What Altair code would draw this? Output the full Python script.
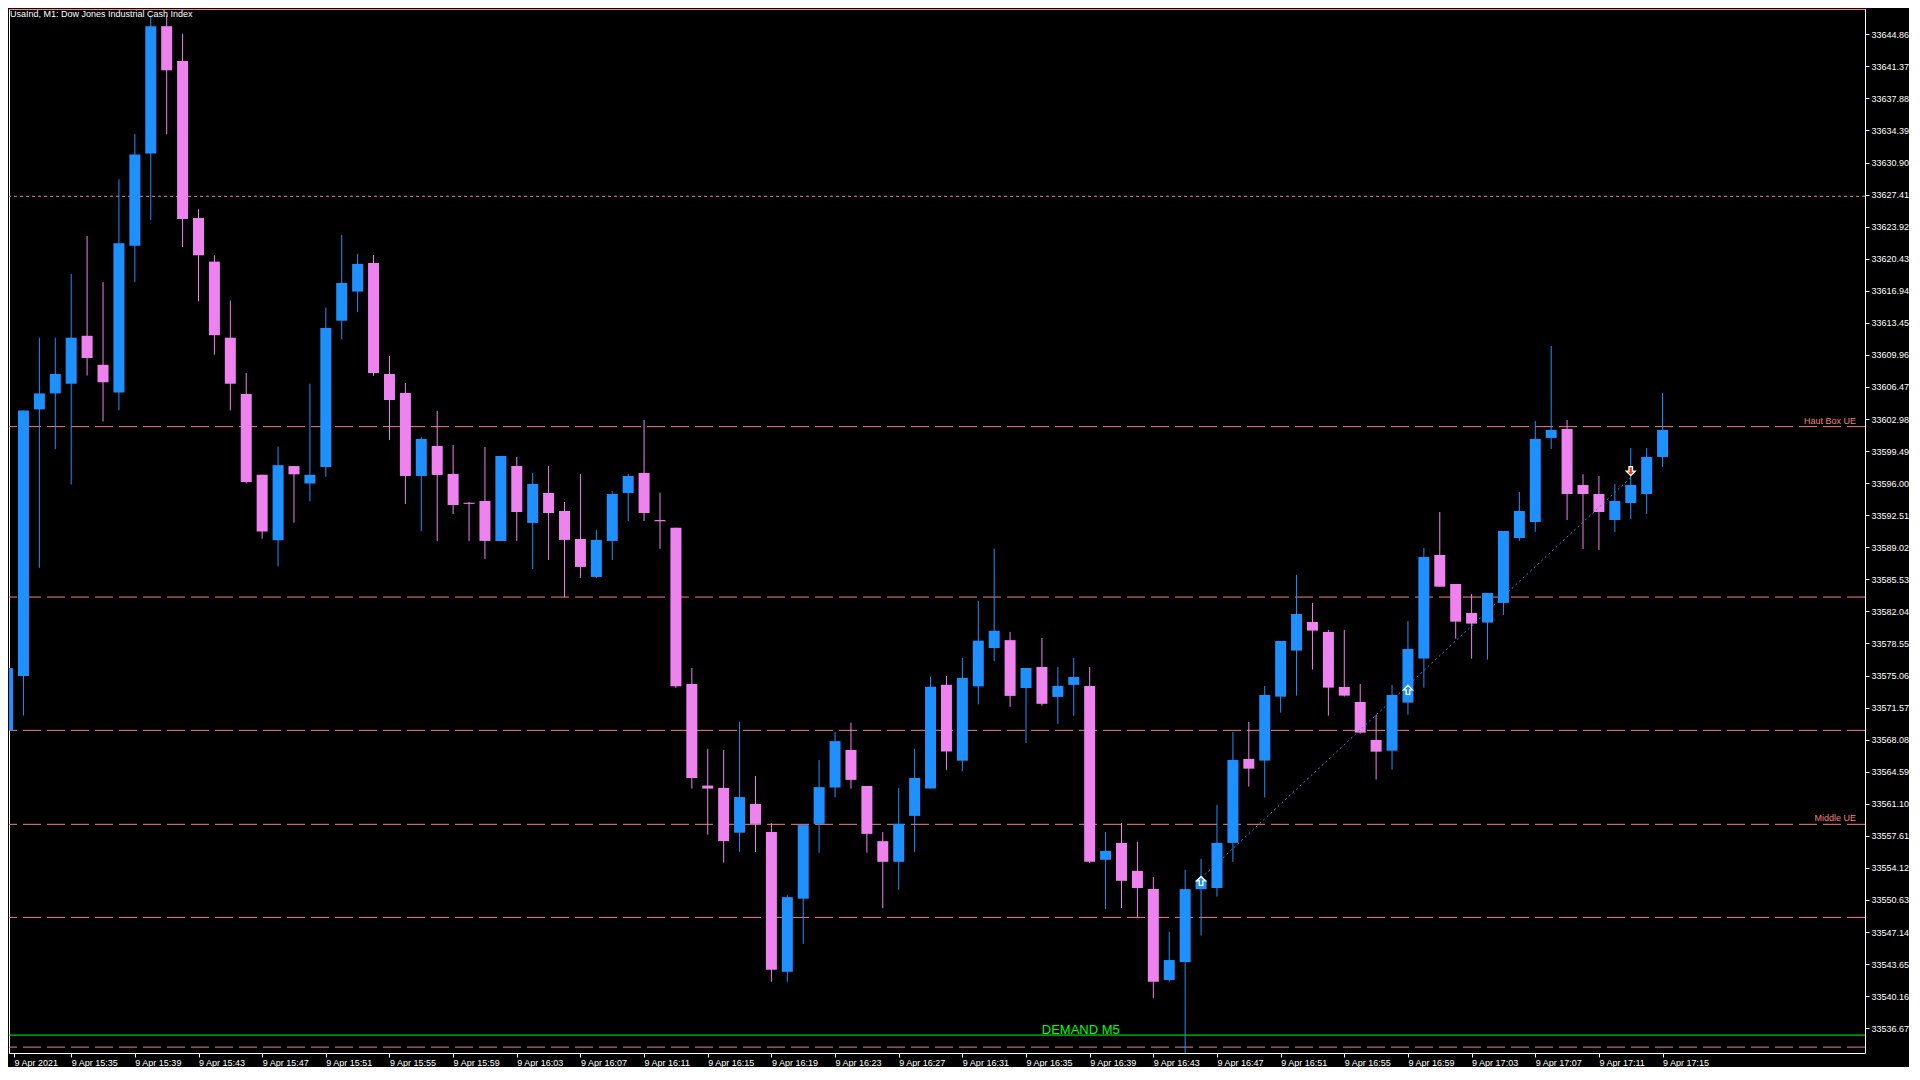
import json
import altair as alt
import pandas as pd

TITLE = "UsaInd, M1:  Dow Jones Industrial Cash Index"

# one candle per minute, index 0 = 9 Apr 2021 15:31
MINUTE = list(range(105))
OPEN = [33569.11, 33575.02, 33604.03, 33605.77, 33606.82, 33612.04, 33608.88, 33605.87, 33621.85, 33631.87,
        33645.74, 33641.95, 33624.86, 33620.11, 33611.83, 33605.71, 33596.91, 33589.79, 33597.86, 33595.96,
        33597.75, 33613.68, 33616.85, 33619.97, 33607.88, 33605.82, 33596.78, 33600.05, 33597.00, 33593.84,
        33594.06, 33589.71, 33597.87, 33591.67, 33594.93, 33592.97, 33589.92, 33585.79, 33589.71, 33594.93,
        33597.11, 33591.98, 33591.15, 33574.13, 33563.08, 33562.83, 33557.95, 33561.08, 33558.03, 33542.81,
        33550.77, 33558.91, 33562.87, 33566.96, 33563.04, 33557.03, 33554.78, 33559.78, 33562.75, 33574.05,
        33565.79, 33573.88, 33578.05, 33578.91, 33573.70, 33575.99, 33572.73, 33574.04, 33573.93, 33555.00,
        33556.84, 33553.80, 33551.81, 33541.92, 33543.87, 33551.81, 33551.93, 33556.84, 33565.98, 33565.80,
        33572.76, 33577.77, 33580.89, 33579.80, 33573.81, 33572.18, 33568.05, 33566.88, 33572.11, 33576.90,
        33588.18, 33585.02, 33581.87, 33580.82, 33582.96, 33590.03, 33591.77, 33600.92, 33601.90, 33595.80,
        33594.82, 33591.99, 33593.84, 33594.82, 33598.85]
HIGH = [33575.87, 33603.92, 33611.83, 33611.83, 33618.79, 33622.91, 33617.90, 33629.08, 33633.98, 33646.90,
        33646.90, 33644.90, 33625.81, 33620.80, 33615.89, 33607.98, 33596.91, 33599.97, 33597.86, 33606.82,
        33615.10, 33623.01, 33620.95, 33620.84, 33609.84, 33606.90, 33601.03, 33603.86, 33600.16, 33593.95,
        33599.94, 33598.96, 33598.85, 33597.11, 33597.87, 33593.95, 33597.00, 33590.90, 33595.15, 33597.00,
        33602.88, 33594.96, 33591.15, 33575.88, 33567.08, 33566.96, 33570.00, 33564.12, 33558.99, 33551.15,
        33558.78, 33565.87, 33568.92, 33569.92, 33563.04, 33558.03, 33562.83, 33567.08, 33574.92, 33575.01,
        33576.97, 33583.18, 33588.85, 33579.81, 33575.88, 33579.14, 33575.99, 33576.97, 33575.99, 33558.04,
        33559.01, 33556.95, 33553.12, 33547.17, 33553.91, 33555.11, 33560.96, 33568.91, 33570.00, 33573.92,
        33578.82, 33586.01, 33582.96, 33580.02, 33580.02, 33574.14, 33570.80, 33574.03, 33581.00, 33588.94,
        33592.86, 33585.02, 33583.94, 33584.05, 33590.79, 33595.04, 33602.77, 33610.93, 33602.88, 33596.96,
        33596.78, 33595.91, 33599.83, 33599.83, 33605.82]
LOW = [33569.11, 33570.70, 33586.78, 33599.70, 33595.85, 33607.72, 33602.71, 33603.92, 33617.90, 33624.65,
       33633.98, 33621.70, 33615.79, 33609.99, 33603.92, 33595.96, 33589.95, 33586.94, 33591.69, 33594.01,
       33596.70, 33611.67, 33614.63, 33607.67, 33600.70, 33593.73, 33590.79, 33589.71, 33592.64, 33589.71,
       33587.75, 33589.71, 33589.71, 33586.66, 33587.64, 33583.61, 33585.68, 33585.68, 33587.64, 33591.88,
       33591.88, 33588.85, 33573.71, 33562.75, 33557.74, 33554.70, 33555.86, 33555.86, 33541.72, 33541.72,
       33545.85, 33555.78, 33561.79, 33562.75, 33555.78, 33549.73, 33551.73, 33555.86, 33562.75, 33564.79,
       33564.66, 33571.92, 33576.63, 33571.64, 33567.71, 33571.76, 33569.80, 33570.67, 33554.66, 33549.64,
       33549.75, 33548.74, 33539.97, 33541.73, 33533.30, 33546.76, 33550.99, 33554.78, 33562.97, 33561.77,
       33571.02, 33572.87, 33575.70, 33570.69, 33572.76, 33568.73, 33563.73, 33564.82, 33570.80, 33573.74,
       33584.73, 33579.07, 33576.90, 33576.79, 33581.65, 33589.71, 33590.69, 33599.72, 33591.99, 33588.84,
       33588.73, 33590.69, 33592.10, 33592.64, 33597.76]
CLOSE = [33575.87, 33603.92, 33605.77, 33607.88, 33611.83, 33609.62, 33606.98, 33622.12, 33631.77, 33645.74,
         33640.94, 33624.75, 33620.80, 33612.10, 33606.82, 33596.12, 33590.74, 33597.96, 33596.96, 33596.91,
         33612.89, 33617.79, 33619.86, 33607.99, 33605.05, 33596.78, 33600.81, 33596.89, 33593.62, 33593.77,
         33589.71, 33598.96, 33592.86, 33595.91, 33592.75, 33589.82, 33586.88, 33589.82, 33594.82, 33596.78,
         33592.75, 33591.85, 33573.88, 33563.91, 33562.75, 33557.03, 33561.83, 33558.91, 33543.02, 33550.94,
         33558.78, 33562.91, 33567.92, 33563.70, 33557.82, 33554.78, 33558.91, 33563.91, 33573.84, 33566.79,
         33574.80, 33578.85, 33579.93, 33572.84, 33575.88, 33571.98, 33573.93, 33574.90, 33554.78, 33555.97,
         33552.71, 33551.93, 33541.73, 33544.09, 33551.81, 33552.83, 33556.84, 33565.87, 33564.92, 33572.94,
         33578.82, 33581.76, 33579.95, 33573.74, 33572.87, 33568.84, 33566.77, 33572.94, 33577.95, 33587.96,
         33584.73, 33580.92, 33580.71, 33584.05, 33590.79, 33592.97, 33600.81, 33601.79, 33594.82, 33594.82,
         33592.86, 33594.06, 33595.80, 33598.85, 33601.79]

X_TICK_LABELS = ["9 Apr 2021", "9 Apr 15:35", "9 Apr 15:39", "9 Apr 15:43", "9 Apr 15:47", "9 Apr 15:51",
                 "9 Apr 15:55", "9 Apr 15:59", "9 Apr 16:03", "9 Apr 16:07", "9 Apr 16:11", "9 Apr 16:15",
                 "9 Apr 16:19", "9 Apr 16:23", "9 Apr 16:27", "9 Apr 16:31", "9 Apr 16:35", "9 Apr 16:39",
                 "9 Apr 16:43", "9 Apr 16:47", "9 Apr 16:51", "9 Apr 16:55", "9 Apr 16:59", "9 Apr 17:03",
                 "9 Apr 17:07", "9 Apr 17:11", "9 Apr 17:15"]
Y_TICKS = [33536.67, 33540.16, 33543.65, 33547.14, 33550.63, 33554.12, 33557.61, 33561.10, 33564.59,
           33568.08, 33571.57, 33575.06, 33578.55, 33582.04, 33585.53, 33589.02, 33592.51, 33596.00,
           33599.49, 33602.98, 33606.47, 33609.96, 33613.45, 33616.94, 33620.43, 33623.92, 33627.41,
           33630.90, 33634.39, 33637.88, 33641.37, 33644.86]

DASHED_LEVELS = [33602.15, 33583.60, 33569.09, 33558.86, 33548.73, 33534.61]
DASHED_LABELS = ["Haut Box UE", "", "", "Middle UE", "", ""]
DOTTED_LEVEL = [33627.22]
TOP_LEVEL = [33647.56]
DEMAND_LEVEL = [33535.92]
DEMAND_LABEL = ["DEMAND M5"]
DEMAND_LABEL_X = [67.44]

TRADE_X = [75, 102]
TRADE_Y = [33553.0, 33596.6]
BUY_X = [75, 88]
BUY_Y = [33552.7, 33573.5]
SELL_X = [102]
SELL_Y = [33597.3]

X_LO, X_HI = 0.40625, 116.40625
Y_LO, Y_HI = 33533.97, 33647.61
W, H = 1856, 1044

BLUE = "#1E90FF"
VIOLET = "#EE82EE"
SALMON = "#F08080"
GREEN = "#00FF00"
FONT = "Liberation Sans"

rows = []
for m, o, h, l, c in zip(MINUTE, OPEN, HIGH, LOW, CLOSE):
    lo, hi = min(o, c), max(o, c)
    if hi - lo < 0.12:
        mid = (hi + lo) / 2
        lo, hi = mid - 0.06, mid + 0.06
    rows.append({"m": m, "o": o, "h": h, "l": l, "c": c, "blo": lo, "bhi": hi,
                 "dir": "up" if c >= o else "down"})
candles = pd.DataFrame(rows)

xs = alt.Scale(domain=[X_LO, X_HI], nice=False, zero=False)
ys = alt.Scale(domain=[Y_LO, Y_HI], nice=False, zero=False)
col = alt.Color("dir:N", scale=alt.Scale(domain=["up", "down"], range=[BLUE, VIOLET]), legend=None)

x_values = [X_LO] + [4 * k for k in range(1, len(X_TICK_LABELS))]
label_expr = json.dumps(X_TICK_LABELS) + "[round(datum.value / 4)]"

x_axis = alt.Axis(values=x_values, labelExpr=label_expr, title=None, grid=False, domain=False,
                  tickSize=4, tickColor="white", labelColor="white", labelFont=FONT, labelFontSize=9,
                  labelAlign="left", labelBaseline="top", labelPadding=1, labelOverlap=False,
                  labelFlush=False)
y_axis = alt.Axis(values=Y_TICKS, format=".2f", orient="right", title=None, grid=False, domain=False,
                  tickSize=4, tickColor="white", labelColor="white", labelFont=FONT, labelFontSize=9,
                  labelPadding=2, labelOverlap=False, labelFlush=False, labelSeparation=0)


def X(f):
    return alt.X(f, scale=xs, axis=x_axis)


def Y(f):
    return alt.Y(f, scale=ys, axis=y_axis)


dashed_df = pd.DataFrame({"y": DASHED_LEVELS, "label": DASHED_LABELS})
dashed = alt.Chart(dashed_df).mark_rule(color=SALMON, strokeWidth=1, strokeDash=[18, 6]).encode(
    y=Y("y:Q"))
dotted = alt.Chart(pd.DataFrame({"y": DOTTED_LEVEL})).mark_rule(
    color=SALMON, strokeWidth=1, strokeDash=[3, 3]).encode(y=Y("y:Q"))
top_line = alt.Chart(pd.DataFrame({"y": TOP_LEVEL})).mark_rule(color=SALMON, strokeWidth=1).encode(
    y=Y("y:Q"))
demand = alt.Chart(pd.DataFrame({"y": DEMAND_LEVEL})).mark_rule(color=GREEN, strokeWidth=1).encode(
    y=Y("y:Q"))

level_labels = alt.Chart(dashed_df[dashed_df["label"] != ""].assign(x=X_HI - 0.25)).mark_text(
    color=SALMON, font=FONT, fontSize=9, align="right", baseline="alphabetic", dy=-3).encode(
    x=X("x:Q"), y=Y("y:Q"), text="label:N")
demand_label = alt.Chart(pd.DataFrame({"x": DEMAND_LABEL_X, "y": DEMAND_LEVEL, "t": DEMAND_LABEL})).mark_text(
    color=GREEN, font=FONT, fontSize=13, align="center", baseline="alphabetic", dy=-1).encode(
    x=X("x:Q"), y=Y("y:Q"), text="t:N")

wicks = alt.Chart(candles).mark_rule(strokeWidth=1, clip=True).encode(
    x=X("m:Q"), y=Y("l:Q"), y2="h:Q", color=col)
bodies = alt.Chart(candles).mark_bar(size=11, clip=True, strokeWidth=0).encode(
    x=X("m:Q"), y=Y("blo:Q"), y2="bhi:Q", color=col)

trade = alt.Chart(pd.DataFrame({"x": TRADE_X, "y": TRADE_Y})).mark_line(
    color=BLUE, strokeWidth=1, strokeDash=[2, 3]).encode(x=X("x:Q"), y=Y("y:Q"))

UP_ARROW = "M0,-1L1,0L0.4,0L0.4,1L-0.4,1L-0.4,0L-1,0Z"
DOWN_ARROW = "M0,1L1,0L0.4,0L0.4,-1L-0.4,-1L-0.4,0L-1,0Z"
buys = alt.Chart(pd.DataFrame({"x": BUY_X, "y": BUY_Y})).mark_point(
    shape=UP_ARROW, filled=True, size=80, fill=BLUE, stroke="white", strokeWidth=1.3, opacity=1).encode(
    x=X("x:Q"), y=Y("y:Q"))
sells = alt.Chart(pd.DataFrame({"x": SELL_X, "y": SELL_Y})).mark_point(
    shape=DOWN_ARROW, filled=True, size=80, fill="#F03C1E", stroke="white", strokeWidth=1.3, opacity=1).encode(
    x=X("x:Q"), y=Y("y:Q"))

title = alt.Chart(pd.DataFrame({"t": [TITLE]})).mark_text(
    color="white", font=FONT, fontSize=9, align="left", baseline="alphabetic").encode(
    x=alt.value(1), y=alt.value(8), text="t:N")

chart = alt.layer(
    dashed, dotted, top_line, demand, wicks, bodies, trade, buys, sells,
    level_labels, demand_label, title
).properties(
    width=W, height=H, padding=0, background="black"
).configure_view(
    stroke="white", strokeWidth=1, fill="black"
).configure_axis(
    labelOverlap=False
)

chart.save("out.html", embed_options={"renderer": "svg", "actions": False})
